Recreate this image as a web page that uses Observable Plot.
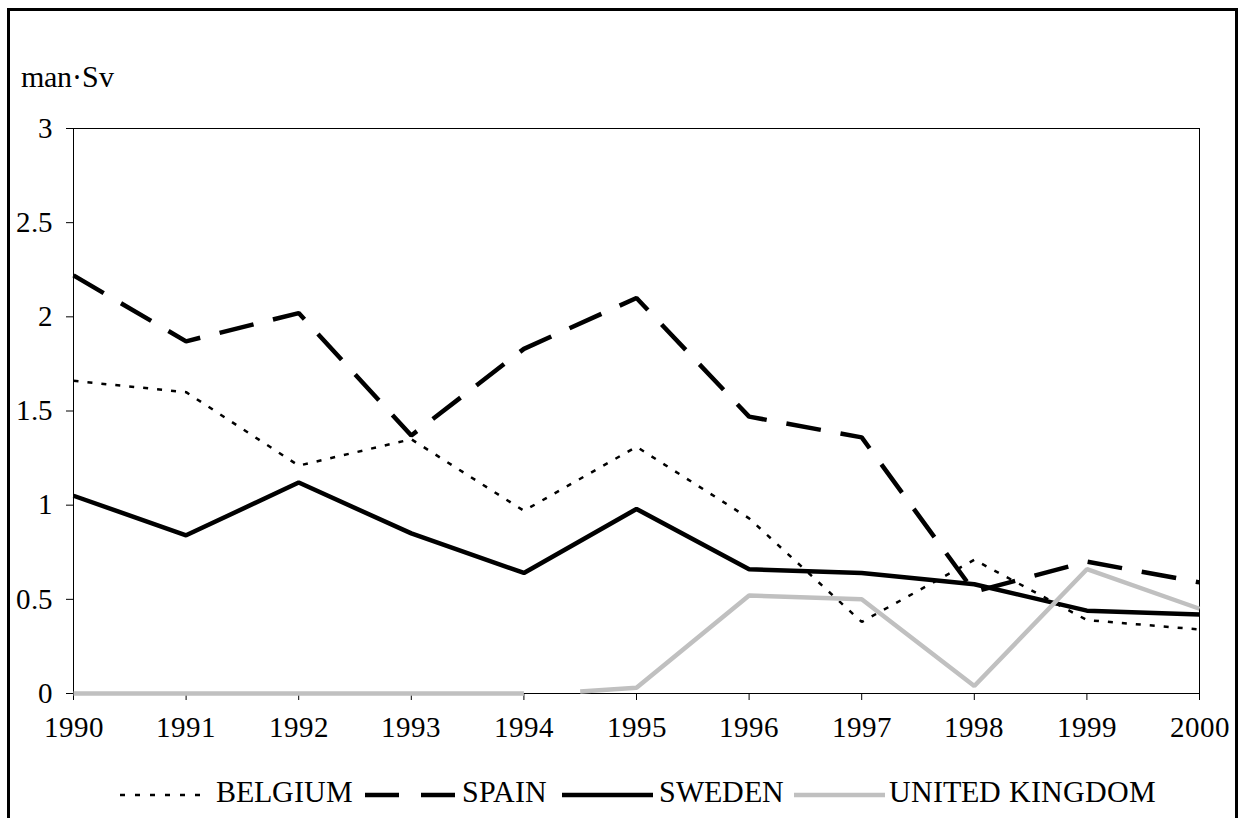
<!DOCTYPE html>
<html>
<head>
<meta charset="utf-8">
<script src="https://cdn.jsdelivr.net/npm/d3@7"></script>
<script src="https://cdn.jsdelivr.net/npm/@observablehq/plot@0.6"></script>
<style>
  @font-face { font-family: "ChartSerif"; src: local("Liberation Serif"), local("LiberationSerif"), local("Liberation Serif Regular"), local("LiberationSerif-Regular"); }
  html { overflow: hidden; }
  body { margin: 0; background: #fff; color: #000; font-family: ChartSerif, 'Times New Roman', Tinos, 'Liberation Serif', serif; }
  #wrap { margin-left: 7px; margin-top: 8px; width: 1231px; height: 830px; box-sizing: border-box; border: 3.5px solid #000; border-bottom: none; overflow: visible; }
  #ylabel { margin-left: 10.5px; margin-top: 50.5px; height: 30px; font-size: 30px; line-height: 30px; white-space: nowrap; }
  #chart { margin-top: 8px; margin-left: -10.5px; width: 1242px; height: 660px; }
  #legend { display: flex; align-items: flex-start; margin-top: 17px; margin-left: 109.5px; height: 30px; }
  .leg { display: inline-block; font-size: 30px; line-height: 30px; white-space: nowrap; }
  .legsw { display: block; margin-top: 8px; flex: none; }
</style>
</head>
<body>
<div id="wrap">
  <div id="ylabel"></div>
  <div id="chart"></div>
  <div id="legend"></div>
</div>
<script>
// ---- data ----
const years = [1990, 1991, 1992, 1993, 1994, 1995, 1996, 1997, 1998, 1999, 2000];
const belgium = [1.66, 1.60, 1.21, 1.35, 0.97, 1.31, 0.93, 0.38, 0.71, 0.39, 0.34];
const spain   = [2.22, 1.87, 2.02, 1.37, 1.83, 2.10, 1.47, 1.36, 0.54, 0.70, 0.59];
const sweden  = [1.05, 0.84, 1.12, 0.85, 0.64, 0.98, 0.66, 0.64, 0.58, 0.44, 0.42];
const ukYears  = [1990, 1991, 1992, 1993, 1994, 1994.25, 1994.5, 1995, 1996, 1997, 1998, 1999, 2000];
const ukValues = [0, 0, 0, 0, 0, null, 0.01, 0.03, 0.52, 0.50, 0.04, 0.66, 0.45];
const seriesNames = ["BELGIUM", "SPAIN", "SWEDEN", "UNITED KINGDOM"];
const yTicks = [0, 0.5, 1, 1.5, 2, 2.5, 3];
const yLabel = "man·Sv";

const FONT = "ChartSerif, 'Times New Roman', Tinos, 'Liberation Serif', serif";

// ---- tables ----
const rows = (vals, xs) => vals.map((v, i) => ({year: xs[i], value: v}));
const belRows = rows(belgium, years);
const spaRows = rows(spain, years);
const sweRows = rows(sweden, years);
const ukRows = rows(ukValues, ukYears);

const styles = [
  {stroke: "#000", strokeWidth: 2.5, dash: "5,9"},
  {stroke: "#000", strokeWidth: 4.5, dash: "35,20"},
  {stroke: "#000", strokeWidth: 4.5, dash: null},
  {stroke: "#c0c0c0", strokeWidth: 4.5, dash: null}
];
const allRows = [belRows, spaRows, sweRows, ukRows];

const yl = document.getElementById("ylabel");
yl.textContent = yLabel;
yl.style.fontFamily = FONT;

const chart = Plot.plot({
  width: 1242,
  height: 660,
  marginLeft: 73,
  marginRight: 43,
  marginTop: 28,
  marginBottom: 67,
  style: {fontFamily: FONT, fontSize: "29px", color: "#000", background: "transparent", overflow: "visible", maxWidth: "none", display: "block"},
  x: {domain: [1990, 2000]},
  y: {domain: [0, 3]},
  marks: [
    Plot.frame({stroke: "#000", strokeWidth: 1}),
    Plot.axisX({ticks: years, tickFormat: d => String(d), tickSize: 7, tickPadding: 16, label: null, fontSize: 29, fontFamily: FONT}),
    Plot.axisY({ticks: yTicks, tickFormat: d => String(d), tickSize: 7, tickPadding: 14, label: null, fontSize: 29, fontFamily: FONT}),
    ...allRows.map((r, i) => Plot.line(r, {
      x: "year", y: "value",
      stroke: styles[i].stroke,
      strokeWidth: styles[i].strokeWidth,
      strokeDasharray: styles[i].dash,
      strokeLinecap: "butt",
      strokeLinejoin: "miter"
    }))
  ]
});
document.getElementById("chart").appendChild(chart);

// ---- legend ----
const legLayout = [
  {swW: 80, gap: 16, textW: 149},
  {swW: 90, gap: 7, textW: 100},
  {swW: 91, gap: 6, textW: 135},
  {swW: 91, gap: 4, textW: 300}
];
const legDash = ["5,10", "34,22", null, null];
const legend = document.getElementById("legend");
seriesNames.forEach((name, i) => {
  const p = legLayout[i];
  const s = d3.create("svg").attr("class", "legsw").attr("width", p.swW).attr("height", 20);
  s.append("line").attr("x1", 0).attr("x2", p.swW).attr("y1", 10).attr("y2", 10)
    .attr("stroke", styles[i].stroke).attr("stroke-width", i === 0 ? 2.7 : 4.5)
    .attr("stroke-dasharray", legDash[i]);
  legend.appendChild(s.node());
  const t = document.createElement("span");
  t.className = "leg";
  t.style.marginLeft = p.gap + "px";
  t.style.width = p.textW + "px";
  t.style.fontFamily = FONT;
  t.textContent = name;
  legend.appendChild(t);
});
</script>
</body>
</html>
